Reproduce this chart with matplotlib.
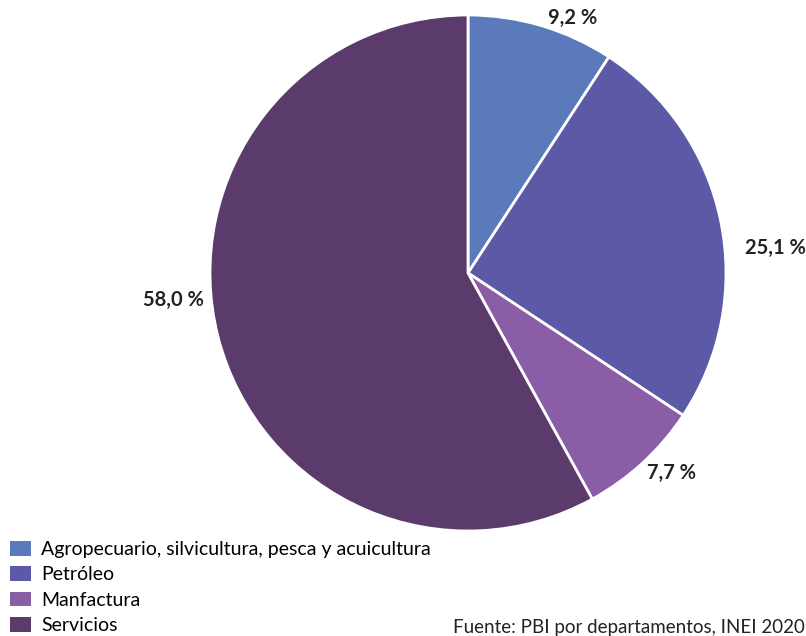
import matplotlib
matplotlib.use("Agg")
import matplotlib.pyplot as plt
from matplotlib.patches import Patch

plt.rcParams['font.family'] = ['Lato', 'DejaVu Sans']

categories = ["Agropecuario, silvicultura, pesca y acuicultura", "Petróleo", "Manfactura", "Servicios"]
shares = [9.2, 25.1, 7.7, 58.0]
value_labels = ["9,2 %", "25,1 %", "7,7 %", "58,0 %"]
colors = ["#5A7ABB", "#5C59A7", "#8A5DA7", "#5A3B6C"]
label_pos = [(0.407, 0.988), (1.19, 0.097), (0.79, -0.775), (-1.143, -0.105)]

W, H = 806, 636
fig = plt.figure(figsize=(W / 100, H / 100), dpi=100)
cx, cy, r = 468, 273, 258
ax = fig.add_axes([(cx - r) / W, (H - cy - r) / H, 2 * r / W, 2 * r / H])
ax.pie(shares, colors=colors, startangle=90, counterclock=False, radius=1,
       wedgeprops=dict(edgecolor="white", linewidth=2))
ax.set_xlim(-1, 1)
ax.set_ylim(-1, 1)
ax.set_aspect("equal")
ax.axis("off")

for txt, (x, y) in zip(value_labels, label_pos):
    ax.text(x, y, txt, ha="center", va="center", fontsize=14.5, fontweight="bold",
            color="#222222", clip_on=False)

handles = [Patch(facecolor=c, edgecolor="none") for c in colors]
fig.legend(handles, categories, loc="upper left", bbox_to_anchor=(4 / W, (H - 535) / H),
           frameon=False, fontsize=14, handlelength=1.1, handleheight=0.8,
           handletextpad=0.5, labelspacing=0.42, borderaxespad=0.0, borderpad=0.3)

fig.text(0.999, 0.0, "Fuente: PBI por departamentos, INEI 2020", ha="right", va="bottom",
         fontsize=13.5, color="#222222")

fig.savefig("out.png", dpi=100)
